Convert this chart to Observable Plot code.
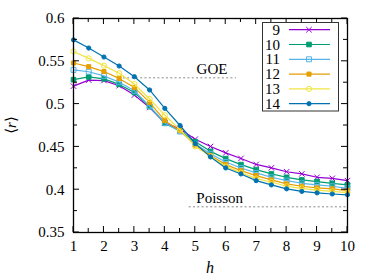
<!DOCTYPE html>
<html><head><meta charset="utf-8">
<script src="https://cdn.jsdelivr.net/npm/d3@7"></script>
<script src="https://cdn.jsdelivr.net/npm/@observablehq/plot@0.6"></script>
<style>
body{margin:0;background:#fff}
svg{display:block}
#chart svg text, #chart svg tspan { font-family: 'Liberation Serif', 'DejaVu Serif', serif !important; }
</style>
</head><body><div id="chart"></div>
<script>
// ---- data ----
const hValues = [1,1.5,2,2.5,3,3.5,4,4.5,5,5.5,6,6.5,7,7.5,8,8.5,9,9.5,10];
const seriesNames = ["9","10","11","12","13","14"];
const r9  = [0.521,0.528,0.5275,0.5215,0.5105,0.496,0.478,0.471,0.459,0.4505,0.443,0.4365,0.4295,0.4255,0.421,0.4185,0.4145,0.4133,0.4106];
const r10 = [0.5285,0.5317,0.5295,0.523,0.5135,0.497,0.4775,0.469,0.456,0.4448,0.4363,0.4293,0.4235,0.4184,0.4145,0.4114,0.4095,0.4075,0.4056];
const r11 = [0.540,0.5378,0.533,0.5255,0.5155,0.4975,0.478,0.468,0.4535,0.442,0.4324,0.4254,0.4196,0.4145,0.4106,0.4075,0.4056,0.404,0.4016];
const r12 = [0.548,0.5437,0.538,0.530,0.5195,0.502,0.4806,0.469,0.452,0.440,0.4293,0.4223,0.4165,0.4114,0.4068,0.404,0.4021,0.401,0.399];
const r13 = [0.5615,0.5534,0.5449,0.536,0.5234,0.506,0.487,0.470,0.4506,0.439,0.427,0.420,0.413,0.409,0.404,0.4015,0.3995,0.398,0.3965];
const r14 = [0.575,0.5655,0.555,0.5445,0.532,0.5165,0.495,0.475,0.4538,0.4383,0.4254,0.4184,0.4106,0.4056,0.401,0.398,0.3963,0.395,0.394];
const seriesValues = [r9, r10, r11, r12, r13, r14];
const xTicks = [1,2,3,4,5,6,7,8,9,10];
const xMinorTicks = [1.5,2.5,3.5,4.5,5.5,6.5,7.5,8.5,9.5];
const yTicks = [0.35,0.4,0.45,0.5,0.55,0.6];
const yTickLabels = ["0.35","0.4","0.45","0.5","0.55","0.6"];
const yMinorTicks = [0.375,0.425,0.475,0.525,0.575];
const goeValue = 0.5307, goeFrom = 2.5, goeTo = 6.35, goeLabelH = 5.55;
const poissonValue = 0.38, poissonFrom = 4.8, poissonTo = 10, poissonLabelH = 5.8;

// ---- styles ----
const colors = ["#9400d3","#009e73","#56b4e9","#e69f00","#f0e442","#0072b2"];
const symbols = ["times","square","square","square","circle","circle"];
const filled = [false,true,false,true,false,true];
const radii = [2.6,2.6,2.8,2.3,2.6,2.1];
const FONT = "'Liberation Serif', 'DejaVu Serif', serif";

const marks = [
  Plot.axisX({ticks: xTicks, tickSize: 0, tickPadding: 8, label: null, tickFormat: d => String(d)}),
  Plot.axisY({ticks: yTicks, tickSize: 0, tickPadding: 9, label: null, tickFormat: d => yTickLabels[yTicks.indexOf(d)]}),
  Plot.ruleY([goeValue], {x1: goeFrom, x2: goeTo, stroke: "#888", strokeWidth: 1, strokeDasharray: "2,2.3"}),
  Plot.ruleY([poissonValue], {x1: poissonFrom, x2: poissonTo, stroke: "#888", strokeWidth: 1, strokeDasharray: "2,2.3"}),
  Plot.text(["GOE"], {x: goeLabelH, y: goeValue, text: d => d, lineAnchor: "bottom", dy: -4, fontSize: 15}),
  Plot.text(["Poisson"], {x: poissonLabelH, y: poissonValue, text: d => d, lineAnchor: "bottom", dy: -4, fontSize: 15})
];
seriesValues.forEach((vals, i) => {
  const data = hValues.map((h, j) => ({h, r: vals[j]}));
  marks.push(Plot.line(data, {x: "h", y: "r", stroke: colors[i], strokeWidth: 1.2}));
  marks.push(Plot.dot(data, {x: "h", y: "r", symbol: symbols[i], r: radii[i], stroke: colors[i],
    fill: filled[i] ? colors[i] : "none", strokeWidth: 1}));
});
marks.push(Plot.frame({stroke: "black", strokeWidth: 1.3}));

const plot = Plot.plot({
  width: 374, height: 280,
  marginLeft: 73, marginRight: 27, marginTop: 18, marginBottom: 48,
  x: {domain: [1, 10]},
  y: {domain: [0.35, 0.6]},
  style: "font-family: 'Liberation Serif', serif; font-size: 15px; color: black; background: white;",
  marks
});
document.getElementById("chart").appendChild(plot);

// ---- inward ticks on all four sides ----
const xs = plot.scale("x"), ys = plot.scale("y");
const [X0, X1] = xs.range, [Y0, Y1] = ys.range; // Y0 bottom, Y1 top
const svg = d3.select(plot);
const tg = svg.append("g").attr("stroke", "black").attr("stroke-width", 1);
const tick = (x1, y1, x2, y2) => tg.append("line").attr("x1", x1).attr("y1", y1).attr("x2", x2).attr("y2", y2);
xTicks.forEach(v => { const x = xs.apply(v); tick(x, Y0, x, Y0 - 6); tick(x, Y1, x, Y1 + 6); });
xMinorTicks.forEach(v => { const x = xs.apply(v); tick(x, Y0, x, Y0 - 4); tick(x, Y1, x, Y1 + 4); });
yTicks.forEach(v => { const y = ys.apply(v); tick(X0, y, X0 + 6, y); tick(X1, y, X1 - 6, y); });
yMinorTicks.forEach(v => { const y = ys.apply(v); tick(X0, y, X0 + 4, y); tick(X1, y, X1 - 4, y); });

// ---- axis labels ----
svg.append("text").attr("x", (X0 + X1) / 2).attr("y", 273).attr("text-anchor", "middle")
  .attr("font-style", "italic").attr("font-size", 16).attr("font-family", FONT).text("h");
const yl = svg.append("text").attr("transform", `translate(16,${(Y0 + Y1) / 2}) rotate(-90)`)
  .attr("text-anchor", "middle").attr("font-size", 15).attr("font-family", FONT);
yl.append("tspan").text("⟨");
yl.append("tspan").attr("font-style", "italic").text("r");
yl.append("tspan").text("⟩");

// ---- legend ----
const lg = svg.append("g").attr("font-family", FONT).attr("font-size", 15);
lg.append("rect").attr("x", 262.5).attr("y", 22.5).attr("width", 76).attr("height", 88.5)
  .attr("fill", "white").attr("stroke", "#333").attr("stroke-width", 1);
seriesNames.forEach((name, i) => {
  const cy = 29.7 + i * 14.8;
  lg.append("text").attr("x", 280).attr("y", cy).attr("dy", "0.34em").attr("text-anchor", "end").text(name);
  lg.append("line").attr("x1", 289).attr("x2", 330).attr("y1", cy).attr("y2", cy)
    .attr("stroke", colors[i]).attr("stroke-width", 1.2);
  const sym = symbols[i] === "times" ? d3.symbolTimes : symbols[i] === "square" ? d3.symbolSquare : d3.symbolCircle;
  lg.append("path").attr("transform", `translate(309,${cy})`)
    .attr("d", d3.symbol(sym, Math.PI * radii[i] * radii[i])())
    .attr("stroke", colors[i]).attr("stroke-width", 1).attr("fill", filled[i] ? colors[i] : "none");
});
</script>
</body></html>
